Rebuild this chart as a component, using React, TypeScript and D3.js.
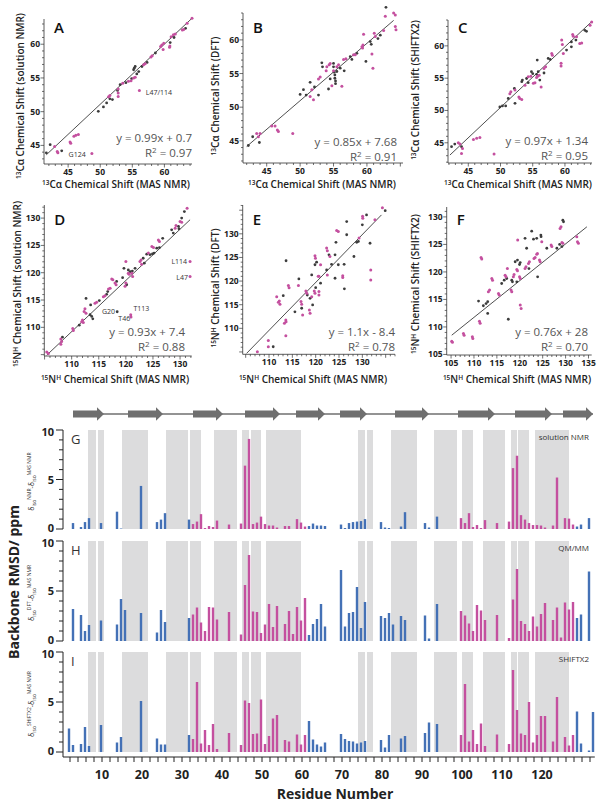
import * as d3 from "d3";

const FONT = "'Open Sans', 'Noto Sans', Arial, sans-serif";
const PINK = "#c4509f";
const BLUE = "#4471b6";
const DOT = "#3c3c3c";
const SHADE = "#dcdcdd";
const ARROW = "#6f6f6f";

type Pt = [number, number];

// ---------- scatter data: [MAS NMR shift, compared shift] ----------
const caSolBlack: Pt[] = [[41.6,43.9],[42.2,45.1],[44.0,44.2],[49.7,50.05],[50.5,50.7],[51.0,51.3],[51.5,51.9],[51.9,51.8],[52.7,53.15],[53.1,54.0],[54.0,54.3],[54.9,54.9],[55.2,56.2],[55.3,56.45],[55.45,56.7],[55.7,55.6],[56.0,55.95],[56.5,56.7],[57.3,57.3],[58.6,58.7],[60.9,60.25],[61.5,61.0],[63.3,62.35]];
const caSolPink: Pt[] = [[42.9,44.85],[43.3,44.1],[43.4,43.9],[45.3,45.5],[45.4,45.3],[45.9,46.35],[46.2,46.5],[46.6,46.6],[48.7,43.8],[51.3,52.2],[51.5,52.4],[52.8,53.35],[52.8,52.75],[52.8,52.25],[53.5,54.2],[54.4,54.5],[54.8,54.6],[55.2,55.0],[55.45,55.1],[56.1,53.15],[56.75,56.95],[57.0,57.1],[57.9,58.1],[58.1,58.3],[59.4,59.65],[59.6,59.9],[59.9,60.15],[59.8,59.2],[60.8,59.55],[60.85,59.75],[61.05,61.1],[61.4,61.4],[61.7,61.5],[62.8,62.1],[63.0,62.2],[63.55,63.1],[64.3,63.85]];
const caSolLine: Pt[] = [[41.6,43.6],[64.3,63.85]];

const caDftBlack: Pt[] = [[42.25,44.3],[42.9,45.6],[43.9,44.75],[50,51.9],[50.5,52.6],[51.5,53.7],[50.9,51.8],[52.15,53.0],[52.75,51.8],[53.25,56.6],[53.35,56.0],[54.5,54.2],[54.25,52.7],[55,56.5],[55,56.0],[55.1,55.2],[55.2,54.8],[55.2,54.3],[55.3,53.9],[55.3,53.5],[55.5,55.3],[56,55.8],[56.6,55.4],[57.5,57.5],[57.75,57.1],[58.5,58.0],[59.85,56.8],[60.5,59.75],[60.65,59.35],[61.65,60.2],[62,60.7],[62.85,64.85]];
const caDftPink: Pt[] = [[43.5,46.1],[44.0,46.1],[43.75,45.6],[45.75,47.2],[46.25,47.2],[46.6,46.6],[46.75,46.4],[48.9,46.1],[51.5,51.6],[52,51.1],[51.75,52.6],[52.75,54.2],[53,54.5],[53.9,55.4],[54,56.0],[54.35,56.3],[54.5,56.5],[54.75,53.2],[55,55.4],[55.5,56.0],[55.75,56.3],[56.25,53.1],[56.5,57.1],[56.85,57.2],[58,57.8],[58.25,57.8],[59.25,59.0],[59.35,58.8],[59.4,59.25],[59.5,60.85],[60.75,57.9],[60.9,55.8],[61.1,61.0],[61.25,60.5],[62.5,61.4],[62.75,63.5],[64,64],[64.25,63.7],[64.25,62.0],[64.35,61.5]];
const caDftLine: Pt[] = [[42,44.15],[64,62.9]];

const caSxBlack: Pt[] = [[42.4,44.4],[42.9,44.8],[43.95,44.4],[49.9,50.55],[50.3,50.7],[50.8,50.7],[51.2,51.85],[52.25,51.1],[52.15,53.4],[53.3,54.45],[53.4,54.7],[54.05,54.95],[54.3,54.3],[54.8,56.0],[55.0,55.7],[55.6,55.6],[55.85,56.0],[55.7,57.8],[56.1,54.7],[56.75,55.8],[57.4,58.05],[57.7,57.9],[60.25,59.35],[61.0,60.6],[61.0,59.85],[61.7,60.9],[63.1,62.4],[63.35,62.25]];
const caSxPink: Pt[] = [[43.45,45.0],[43.7,44.8],[44.1,44.1],[43.95,43.35],[45.8,45.5],[46.3,45.7],[46.8,45.8],[49.0,43.25],[51.45,52.6],[51.6,52.9],[52.25,53.15],[52.85,52.1],[53.0,51.85],[53.3,51.7],[53.8,53.9],[54.3,55.2],[54.7,55.3],[55.1,54.2],[55.35,54.3],[55.6,55.1],[55.75,55.3],[56.0,55.45],[56.3,53.65],[56.75,56.5],[57.0,56.75],[57.95,58.8],[58.05,58.55],[59.4,57.3],[59.4,56.9],[59.5,60.9],[59.6,60.2],[59.75,58.8],[61.2,61.75],[61.3,61.5],[61.8,61.4],[62.3,60.35],[62.6,60.45],[63.9,63.2],[64.15,63.7]];
const caSxLine: Pt[] = [[42.15,43.1],[64.1,63.7]];

const nSolBlack: Pt[] = [[108.3,108.2],[111.4,110.4],[112.65,115.3],[113.4,112.3],[113.7,112.0],[113.9,111.55],[113.5,114.1],[115.1,114.9],[116.65,116.55],[116.45,116.05],[118.3,118.4],[118.4,112.85],[119.4,119.1],[119.65,120.8],[120.15,117.8],[120.45,120.5],[120.8,120.2],[121.2,120.3],[121.7,120.8],[123.2,122.65],[123.4,121.75],[123.85,123.4],[124.45,123.3],[124.9,123.45],[125.2,123.6],[125.7,124.5],[126.2,124.6],[126.8,126.3],[128.45,127.85],[128.75,127.25],[129.7,128.5],[129.8,128.05],[130.3,130.0],[130.8,131.2]];
const nSolPink: Pt[] = [[105.4,105.5],[105.7,105.2],[108.0,107.85],[108.15,107.4],[108.0,106.9],[110.2,109.8],[110.3,109.4],[111.85,111.0],[112.0,111.35],[112.15,110.9],[112.3,112.9],[112.45,113.4],[112.65,112.6],[114.3,114.4],[114.6,114.6],[115.85,115.6],[116.15,115.8],[116.8,117.0],[117.1,117.15],[117.4,118.85],[117.6,118.7],[118.0,118.1],[118.2,117.8],[119.85,117.5],[120.0,118.1],[120.0,122.05],[120.45,119.9],[120.6,119.7],[121.1,119.9],[121.25,119.3],[120.9,112.3],[120.95,111.9],[122.6,122.05],[122.8,122.35],[122.9,121.55],[124.15,123.6],[124.8,124.8],[125.1,124.6],[126.0,126.0],[126.2,125.7],[129.1,128.15],[129.25,128.65],[130.0,129.4],[130.3,129.25],[131.85,122.05],[131.85,119.3],[131.3,131.8]];
const nSolLine: Pt[] = [[105.4,104.9],[131.85,129.7]];

const nDftBlack: Pt[] = [[110.9,106.1],[113.65,124.3],[113.05,116.9],[115.55,113.5],[116.4,120.45],[117.0,114.25],[118.2,117.05],[118.8,116.35],[119.15,121.3],[119.35,114.95],[119.85,123.45],[120.2,124.0],[120.0,118.6],[121.05,119.55],[122.35,122.35],[122.85,125.55],[123.4,123.55],[124.15,120.6],[124.35,128.2],[124.15,125.55],[124.85,123.45],[126.1,123.55],[126.15,118.35],[126.65,132.6],[126.65,129.8],[128.2,125.2],[128.8,128.2],[129.15,128.4],[130.0,131.9],[131.65,128.0],[130.9,134.0],[134.9,134.9]];
const nDftPink: Pt[] = [[107.5,105.05],[109.85,107.4],[109.85,106.1],[113.6,111.75],[113.65,111.4],[113.3,111.05],[113.6,108.45],[111.65,116.7],[112.0,115.5],[112.2,115.8],[112.35,115.1],[114.15,119.05],[114.3,118.6],[116.3,119.05],[116.85,115.65],[117.0,115.1],[117.2,112.8],[117.9,117.9],[118.1,117.4],[118.65,113.9],[118.8,113.2],[119.15,116.7],[119.85,125.35],[119.95,124.85],[119.7,117.9],[119.85,117.4],[120.55,121.0],[120.7,121.0],[120.7,117.8],[120.7,117.05],[121.05,123.45],[122.35,127.0],[122.5,126.4],[122.5,121.3],[123.05,125.2],[124.5,130.7],[124.85,130.5],[125.8,121.1],[125.8,120.75],[129.3,129.1],[130.05,133.7],[130.1,133.3],[131.8,122.35],[131.8,120.25],[132.7,133.0],[134.3,135.5]];
const nDftLine: Pt[] = [[105.2,104.7],[134.1,134]];

const nSxBlack: Pt[] = [[111.0,114.7],[112.05,113.85],[112.65,114.25],[113.0,114.6],[113.0,112.45],[116.05,117.9],[116.6,118.5],[117.15,118.8],[117.5,111.4],[118.25,118.5],[118.4,118.2],[119.0,121.85],[119.5,122.15],[119.35,118.2],[119.95,121.35],[120.1,121.7],[121.15,126.1],[121.5,124.3],[122.0,120.6],[122.6,127.4],[123.0,125.95],[123.7,126.1],[123.9,119.1],[124.6,126.7],[124.65,126.4],[125.9,124.3],[128.1,124.3],[128.7,125.0],[129.4,129.4],[129.55,129.1],[129.2,124.6]];
const nSxPink: Pt[] = [[105.15,107.4],[105.3,107.2],[107.7,108.8],[107.85,108.5],[109.65,108.2],[109.75,107.9],[111.2,111.05],[111.35,110.65],[111.55,122.6],[111.7,122.35],[113.15,116.4],[113.4,116.7],[113.9,118.8],[114.05,118.5],[115.35,116.1],[115.5,115.8],[116.8,119.4],[117.0,119.1],[117.3,120.6],[118.1,116.7],[118.25,116.4],[118.6,119.1],[118.75,119.55],[119.35,120.45],[119.5,120.2],[119.55,125.8],[119.95,119.1],[120.1,118.8],[120.1,114.0],[120.3,113.35],[121.15,120.6],[121.35,120.95],[121.9,121.55],[122.1,121.85],[123.1,122.45],[123.35,122.6],[123.7,123.2],[123.85,123.35],[124.3,122.15],[124.45,121.85],[124.8,125.5],[126.85,124.9],[127.0,124.6],[128.8,127.9],[129.0,128.2],[129.2,125.35],[129.4,125.2],[132.45,126.4],[132.6,125.5],[132.8,125.2]];
const nSxLine: Pt[] = [[105.15,108.5],[134.65,128.2]];

const caTicks = [45, 50, 55, 60];
const nTicks = [110, 115, 120, 125, 130];
const nTicksF = [105, 110, 115, 120, 125, 130, 135];

// ---------- per-residue backbone RMSD (ppm); null = no bar ----------
const residues = [2,3,5,6,7,10,14,15,16,20,24,25,26,32,33,34,35,36,37,38,39,42,45,46,47,48,49,50,51,52,53,54,56,57,58,59,60,61,62,63,64,65,66,70,71,72,73,74,75,76,80,81,82,83,85,86,91,92,94,100,101,102,103,104,105,106,109,112,113,114,115,116,117,118,119,120,121,123,124,125,126,127,128,129,130,132,133];
const rmsdSolution = [null,0.6,0.2,0.7,1.1,0.6,1.75,0.05,null,4.35,0.7,0.95,1.6,0.95,0.5,0.75,1.5,0.1,0.3,0.2,0.85,0.45,0.55,6.4,9.1,0.5,0.65,1.25,0.5,0.35,0.35,0.15,0.3,0.3,null,1.0,0.65,0.25,0.3,0.55,0.35,0.35,0.3,0.45,0.1,0.6,0.7,0.75,0.8,1.0,0.7,0.15,0.1,null,0.25,1.7,0.6,0.15,1.25,1.1,0.6,1.6,0.2,0.4,0.1,0.9,0.6,0.75,6.15,7.4,1.4,0.95,0.6,0.4,0.4,0.35,0.15,0.35,5.2,null,1.1,1.05,0.45,0.25,0.45,1.1,null];
const rmsdQMMM = [null,3.2,2.6,1.0,1.6,2.05,1.65,4.2,3.1,2.8,0.85,3.1,1.9,2.3,2.65,3.35,1.85,1.0,3.4,3.35,2.15,2.9,0.65,5.6,8.6,2.95,2.9,0.8,1.65,3.7,1.4,3.5,1.7,3.0,0.7,3.4,2.05,4.3,0.6,1.7,2.2,3.7,1.45,7.1,1.45,2.8,2.9,5.4,1.3,3.9,2.5,2.3,2.8,1.65,2.5,2.1,2.55,0.25,3.7,3.0,2.55,1.75,1.0,3.6,3.05,2.1,2.6,0.3,4.15,7.2,2.0,1.7,1.0,2.45,1.45,2.7,3.8,2.1,3.35,0.35,3.85,3.15,3.9,2.3,2.65,6.95,null];
const rmsdShiftx2 = [2.35,0.7,0.8,2.5,0.6,2.7,0.95,1.5,null,5.1,1.35,0.75,0.75,1.7,1.3,7.0,0.85,2.2,0.7,2.8,0.3,1.9,0.7,5.15,4.9,1.8,1.85,5.25,0.8,1.6,3.35,3.7,1.2,1.05,null,1.75,0.75,1.7,3.1,1.25,0.75,0.55,0.95,1.8,1.3,1.1,1.05,0.85,0.95,1.1,1.2,0.45,1.7,null,1.35,1.6,1.9,2.95,2.8,1.7,6.8,1.05,2.2,0.8,2.85,0.6,1.75,0.8,8.2,4.2,1.85,1.7,5.0,0.95,1.7,3.6,3.6,1.05,5.5,null,1.5,0.65,1.7,4.05,0.85,0.15,4.0];
const pinkSegments: Pt[] = [[33, 61], [100, 128]];
const shadedRanges: Pt[] = [[6.5,8.5],[9,10.5],[15,21.5],[26,31.5],[32,34.75],[38,43.75],[45,46.75],[47.25,49.75],[51,59.75],[74,75.75],[76.25,77.75],[82.25,88.75],[93,98.75],[100,102.75],[105.25,110.75],[112.25,113.75],[114,116.75],[118.25,126.75]];
const strandRanges: Pt[] = [[2.75,10.5],[16.5,25.25],[32.75,40.25],[45.75,54.5],[58.5,65.75],[69.5,76.25],[83.25,91.75],[99,108.25],[113.25,122.5],[125.25,132.75]];
const residueLabels = [10,20,30,40,50,60,70,80,90,100,110,120];
const rmsdLabels = [0, 5, 10];

const xBar = d3.scaleLinear().domain([0, 133]).range([62, 594]);
const isPink = (r: number) => pinkSegments.some(([a, b]) => r >= a && r <= b);

type Note = { t: string; x: number; y: number; anchor: "start" | "end" | "middle" };
interface ScatterCfg {
  letter: string; nuc: "C" | "N"; method: string;
  black: Pt[]; pink: Pt[]; line: Pt[]; eq: string; r2: string;
  xDom: Pt; yDom: Pt; xPx: Pt; yPx: Pt; xTicks: number[]; yTicks: number[];
  letterY: number; yTitle: Pt; xTitle: Pt; eqX: number; eqY: number; notes: Note[];
}

const scatterPanels: ScatterCfg[] = [
  { letter: "A", nuc: "C", method: "solution NMR", black: caSolBlack, pink: caSolPink, line: caSolLine, eq: "y = 0.99x + 0.7", r2: "0.97",
    xDom: [41.24, 64.3], yDom: [42.24, 63.74], xPx: [44, 192], yPx: [164, 19], xTicks: caTicks, yTicks: caTicks,
    letterY: 33, yTitle: [24, 96], xTitle: [116, 188], eqX: 192, eqY: 142,
    notes: [{ t: "G124", x: 46.4, y: 43.3, anchor: "middle" }, { t: "L47/114", x: 57.1, y: 52.4, anchor: "start" }] },
  { letter: "B", nuc: "C", method: "DFT", black: caDftBlack, pink: caDftPink, line: caDftLine, eq: "y = 0.85x + 7.68", r2: "0.91",
    xDom: [41.45, 65.4], yDom: [41.7, 64], xPx: [243, 403], yPx: [163, 13], xTicks: caTicks, yTicks: caTicks,
    letterY: 33, yTitle: [219, 96], xTitle: [322, 188], eqX: 397, eqY: 146, notes: [] },
  { letter: "C", nuc: "C", method: "SHIFTX2", black: caSxBlack, pink: caSxPink, line: caSxLine, eq: "y = 0.97x + 1.34", r2: "0.95",
    xDom: [41.85, 64.2], yDom: [41.87, 64], xPx: [448, 592], yPx: [163, 20], xTicks: caTicks, yTicks: caTicks,
    letterY: 33, yTitle: [419, 90], xTitle: [518, 188], eqX: 588, eqY: 145, notes: [] },
  { letter: "D", nuc: "N", method: "solution NMR", black: nSolBlack, pink: nSolPink, line: nSolLine, eq: "y = 0.93x + 7.4", r2: "0.88",
    xDom: [104.95, 132.15], yDom: [104.75, 132.4], xPx: [44.3, 191.7], yPx: [356, 205], xTicks: nTicks, yTicks: nTicks,
    letterY: 225, yTitle: [21, 284], xTitle: [115, 383], eqX: 185, eqY: 336,
    notes: [{ t: "G20", x: 118.0, y: 112.4, anchor: "end" }, { t: "T113", x: 121.4, y: 113.0, anchor: "start" },
            { t: "T46", x: 120.8, y: 111.15, anchor: "end" }, { t: "L114", x: 131.3, y: 121.6, anchor: "end" },
            { t: "L47", x: 131.45, y: 118.75, anchor: "end" }] },
  { letter: "E", nuc: "N", method: "DFT", black: nDftBlack, pink: nDftPink, line: nDftLine, eq: "y = 1.1x - 8.4", r2: "0.78",
    xDom: [104.36, 137], yDom: [104.5, 136.1], xPx: [242.7, 395], yPx: [354.3, 205], xTicks: nTicks, yTicks: nTicks,
    letterY: 225, yTitle: [219, 288], xTitle: [313, 383], eqX: 395, eqY: 336, notes: [] },
  { letter: "F", nuc: "N", method: "SHIFTX2", black: nSxBlack, pink: nSxPink, line: nSxLine, eq: "y = 0.76x + 28", r2: "0.70",
    xDom: [104.05, 135.7], yDom: [104.9, 131.8], xPx: [446.7, 591.7], yPx: [355, 207], xTicks: nTicksF, yTicks: [105, 110, 115, 120, 125, 130],
    letterY: 225, yTitle: [419, 284], xTitle: [517, 383], eqX: 588, eqY: 336, notes: [] },
];

function ShiftTitle({ nuc, tail }: { nuc: "C" | "N"; tail: string }) {
  if (nuc === "C") {
    return (<>
      <tspan fontSize={6.5} dy={-3.5}>13</tspan>
      <tspan dy={3.5}>{"C\u03b1 Chemical Shift (" + tail + ")"}</tspan>
    </>);
  }
  return (<>
    <tspan fontSize={6.5} dy={-3.5}>15</tspan>
    <tspan dy={3.5}>N</tspan>
    <tspan fontSize={6.5} dy={-3.5}>H</tspan>
    <tspan dy={3.5}>{" Chemical Shift (" + tail + ")"}</tspan>
  </>);
}

function Scatter({ p }: { p: ScatterCfg }) {
  const x = d3.scaleLinear().domain(p.xDom).range(p.xPx);
  const y = d3.scaleLinear().domain(p.yDom).range(p.yPx);
  const minorX = d3.range(Math.ceil(p.xDom[0]), Math.floor(p.xDom[1]) + 1);
  const minorY = d3.range(Math.ceil(p.yDom[0]), Math.floor(p.yDom[1]) + 1);
  const x0 = p.xPx[0], y0 = p.yPx[0];
  return (
    <g>
      <line x1={x0} x2={p.xPx[1]} y1={y0} y2={y0} stroke="#333" strokeWidth={0.8} />
      <line x1={x0} x2={x0} y1={y0} y2={p.yPx[1]} stroke="#333" strokeWidth={0.8} />
      {minorX.map((v) => (
        <line key={"mx" + v} x1={x(v)} x2={x(v)} y1={y0} y2={y0 + (v % 5 === 0 ? 3.5 : 2)} stroke="#333" strokeWidth={0.7} />
      ))}
      {minorY.map((v) => (
        <line key={"my" + v} x1={x0} x2={x0 - (v % 5 === 0 ? 3.5 : 2)} y1={y(v)} y2={y(v)} stroke="#333" strokeWidth={0.7} />
      ))}
      {p.xTicks.map((v) => (
        <text key={"tx" + v} x={x(v)} y={y0 + 11} textAnchor="middle" fontSize={8.5} fontWeight={700} fill="#222">{v}</text>
      ))}
      {p.yTicks.map((v) => (
        <text key={"ty" + v} x={x0 - 4} y={y(v) + 3} textAnchor="end" fontSize={8.5} fontWeight={700} fill="#222">{v}</text>
      ))}
      <line x1={x(p.line[0][0])} y1={y(p.line[0][1])} x2={x(p.line[1][0])} y2={y(p.line[1][1])} stroke="#222" strokeWidth={0.8} />
      {p.black.map((d, i) => <circle key={"b" + i} cx={x(d[0])} cy={y(d[1])} r={1.4} fill={DOT} />)}
      {p.pink.map((d, i) => <circle key={"p" + i} cx={x(d[0])} cy={y(d[1])} r={1.5} fill={PINK} />)}
      {p.notes.map((n) => (
        <text key={n.t} x={x(n.x)} y={y(n.y)} textAnchor={n.anchor} fontSize={7} fill="#333">{n.t}</text>
      ))}
      <text x={x0 + 10} y={p.letterY} fontSize={15} fontWeight={600} fill="#111">{p.letter}</text>
      <text x={p.eqX} y={p.eqY} textAnchor="end" fontSize={11.5} fill="#555">{p.eq}</text>
      <text x={p.eqX} y={p.eqY + 15} textAnchor="end" fontSize={11.5} fill="#555">
        R<tspan fontSize={8} dy={-4}>2</tspan><tspan dy={4}>{" = " + p.r2}</tspan>
      </text>
      <text transform={`translate(${p.yTitle[0]},${p.yTitle[1]}) rotate(-90)`} textAnchor="middle" fontSize={10} fontWeight={600} fill="#222">
        <ShiftTitle nuc={p.nuc} tail={p.method} />
      </text>
      <text x={p.xTitle[0]} y={p.xTitle[1]} textAnchor="middle" fontSize={10} fontWeight={600} fill="#222">
        <ShiftTitle nuc={p.nuc} tail="MAS NMR" />
      </text>
    </g>
  );
}

const barPanels = [
  { letter: "G", name: "solution NMR", sup: "NMR", values: rmsdSolution, top: 430, base: 529 },
  { letter: "H", name: "QM/MM", sup: "DFT", values: rmsdQMMM, top: 541, base: 641 },
  { letter: "I", name: "SHIFTX2", sup: "SHIFTX2", values: rmsdShiftx2, top: 652, base: 752 },
];

function BarPanel({ p, last }: { p: typeof barPanels[number]; last: boolean }) {
  const y = d3.scaleLinear().domain([0, 10]).range([p.base, p.top]);
  const axisBottom = last ? 757 : p.base;
  const labelShift = (v: number) => (v === 10 ? 5.5 : v === 0 ? 2.5 : 4);
  return (
    <g>
      {shadedRanges.map(([a, b], i) => (
        <rect key={"s" + i} x={xBar(a)} width={xBar(b) - xBar(a)} y={y(10)} height={y(0) - y(10)} fill={SHADE} />
      ))}
      {residues.map((r, i) => {
        const v = p.values[i];
        if (v === null) return null;
        return <rect key={"r" + r} x={xBar(r) - 2.2} width={2.4} y={y(v)} height={y(0) - y(v)} fill={isPink(r) ? PINK : BLUE} />;
      })}
      <line x1={63} x2={63} y1={y(10)} y2={axisBottom} stroke="#222" strokeWidth={1} />
      {d3.range(0, 11).map((v) => (
        <line key={"t" + v} x1={63} x2={v % 5 === 0 ? 56 : 59} y1={y(v)} y2={y(v)} stroke="#222" strokeWidth={1} />
      ))}
      {rmsdLabels.map((v) => (
        <text key={"l" + v} x={54} y={y(v) + labelShift(v)} textAnchor="end" fontSize={11} fontWeight={700} fill="#222">{v}</text>
      ))}
      <text x={71} y={p.top + 14} fontSize={13} fill="#333">{p.letter}</text>
      <text x={589} y={p.top + 10} textAnchor="end" fontSize={8} fill="#333">{p.name}</text>
      <text transform={`translate(34,${(p.top + p.base) / 2 + 2}) rotate(-90)`} textAnchor="middle" fontSize={7} fill="#333">
        δ<tspan fontSize={5} dy={2}>iso</tspan><tspan fontSize={5} dy={-5}>{p.sup}</tspan>
        <tspan dy={3}>-δ</tspan><tspan fontSize={5} dy={2}>iso</tspan><tspan fontSize={5} dy={-5}>MAS NMR</tspan>
      </text>
    </g>
  );
}

function Strands() {
  const yc = 414;
  const first = strandRanges[0][0];
  const last = strandRanges[strandRanges.length - 1][1];
  return (
    <g>
      <line x1={xBar(first)} x2={xBar(last)} y1={yc} y2={yc} stroke={ARROW} strokeWidth={1.3} />
      {strandRanges.map(([a, b], i) => {
        const xa = xBar(a), xb = xBar(b), h = 7;
        const d = `M${xa},${yc - 3.6}H${xb - h}V${yc - 6.8}L${xb},${yc}L${xb - h},${yc + 6.8}V${yc + 3.6}H${xa}Z`;
        return <path key={i} d={d} fill={ARROW} />;
      })}
    </g>
  );
}

export default function App() {
  const evenTicks = d3.range(2, 133, 2);
  return (
    <div style={{ width: 604, height: 808 }}>
      <style>{`body{margin:0}`}</style>
      <svg width={604} height={808} style={{ display: "block", background: "#fff" }} fontFamily={FONT}>
        {scatterPanels.map((p) => <Scatter key={p.letter} p={p} />)}
        <Strands />
        {barPanels.map((p, i) => <BarPanel key={p.letter} p={p} last={i === barPanels.length - 1} />)}
        <line x1={63} x2={xBar(133.2)} y1={757} y2={757} stroke="#222" strokeWidth={1} />
        {evenTicks.map((r) => (
          <line key={"xt" + r} x1={xBar(r)} x2={xBar(r)} y1={757} y2={762} stroke="#222" strokeWidth={1} />
        ))}
        {residueLabels.map((r) => (
          <text key={"xl" + r} x={xBar(r)} y={779} textAnchor="middle" fontSize={12.5} fontWeight={700} fill="#222">{r}</text>
        ))}
        <text x={335} y={799} textAnchor="middle" fontSize={14} fontWeight={700} fill="#222">Residue Number</text>
        <text transform="translate(19,582) rotate(-90)" textAnchor="middle" fontSize={14} fontWeight={700} fill="#222">Backbone RMSD/ ppm</text>
      </svg>
    </div>
  );
}
